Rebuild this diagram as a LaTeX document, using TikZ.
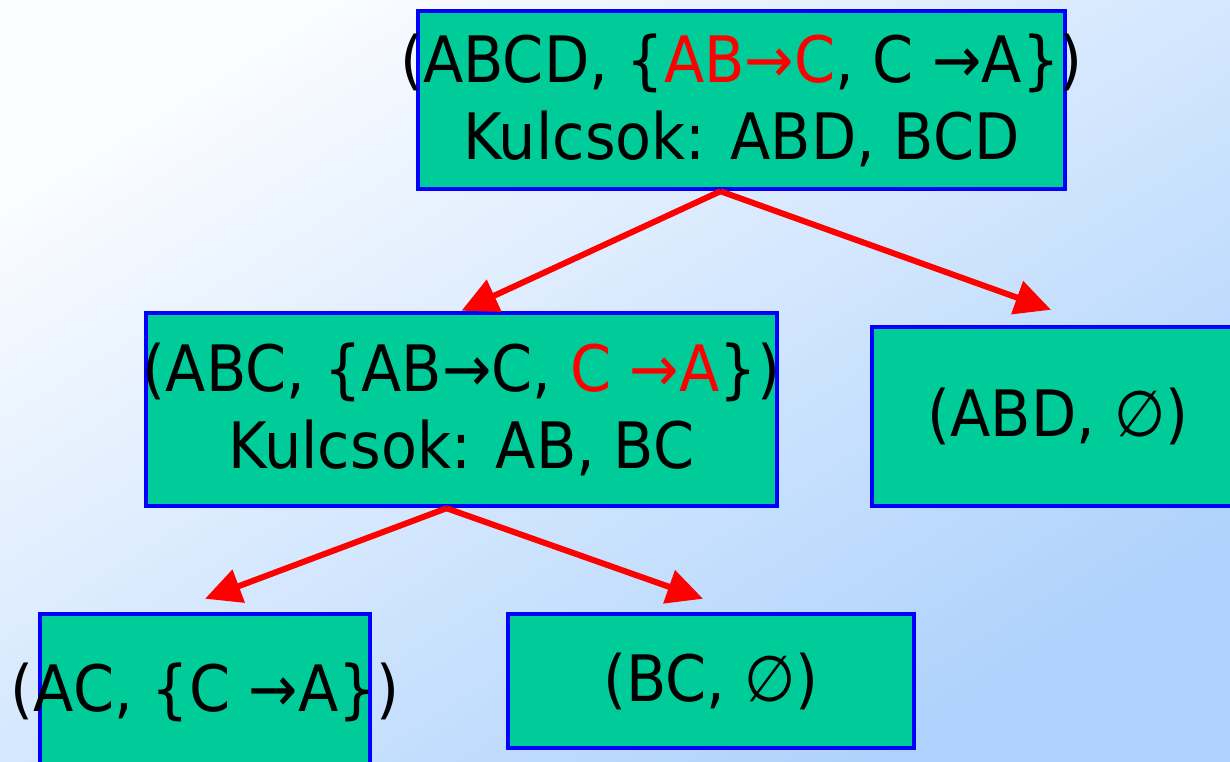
\documentclass[tikz,border=0pt]{standalone}
\usepackage{fontspec}
\setmainfont[FakeStretch=0.92]{DejaVu Sans}
\usepackage{tikz}
\usetikzlibrary{arrows.meta, calc}
\definecolor{boxfill}{HTML}{00CC99}
\definecolor{boxline}{HTML}{0000FF}
\definecolor{bgtop}{HTML}{FAFCFF}
\definecolor{bgbottom}{HTML}{AED2FC}
\tikzstyle{box} = [rectangle, draw=boxline, fill=boxfill, line width=4.5pt, inner sep=0pt]
\tikzstyle{lbl} = [align=center, inner sep=0pt, font=\fontsize{64}{77}\selectfont]
\tikzstyle{redarrow} = [red, line width=6pt, -{Triangle[length=36pt, width=34pt]}]

\begin{document}
\begin{tikzpicture}[x=1pt, y=-1pt]
        
        \shade[top color=bgtop, bottom color=bgbottom, shading angle=32] (0,0) rectangle (1230,761);
        \useasboundingbox (0,0) rectangle (1230,761);
        
        \node at (741.5,100) [box, minimum width=647pt, minimum height=178pt](abcd) {};
        \node at (abcd) [lbl](abcd-t) {(ABCD, \{{\color{red}AB→C}, C →A\})\\Kulcsok: ABD, BCD};
        
        \node at (461.5,409.5) [box, minimum width=631pt, minimum height=193pt](abc) {};
        \node at (abc) [lbl](abc-t) {(ABC, \{AB→C, {\color{red}C →A}\})\\Kulcsok: AB, BC};
        
        \node at (1061,416.5) [box, minimum width=378pt, minimum height=179pt](abd) {};
        \node at (1058,416.5) [lbl](abd-t) {(ABD, ∅)};
        
        \node at (205,692) [box, minimum width=330pt, minimum height=156pt](ac) {};
        \node at (ac) [lbl](ac-t) {(AC, \{C →A\})};
        
        \node at (711,681) [box, minimum width=406pt, minimum height=134pt](bc) {};
        \node at (bc) [lbl](bc-t) {(BC, ∅)};
        
        \draw[redarrow] ([xshift=-21pt]abcd.south) -- (abc.north);
        \draw[redarrow] ([xshift=-21pt]abcd.south) -- ([xshift=-10pt, yshift=15pt]abd.north);
        \draw[redarrow] ([xshift=-15pt]abc.south) -- ([yshift=13pt]ac.north);
        \draw[redarrow] ([xshift=-15pt]abc.south) -- ([xshift=-8pt, yshift=13pt]bc.north);
        
    \end{tikzpicture}
\end{document}
